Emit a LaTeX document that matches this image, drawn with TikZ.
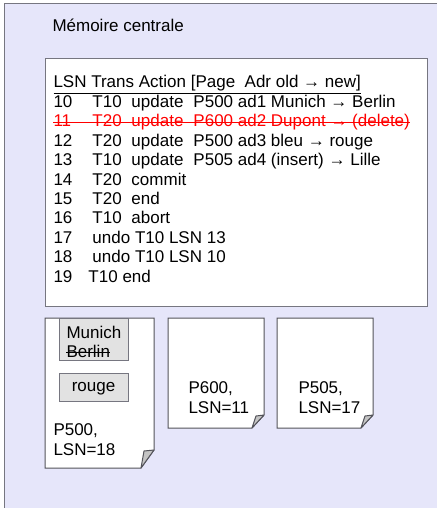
\documentclass[tikz,border=0pt]{standalone}
\usepackage{fontspec}
\setmainfont{Liberation Sans}
\usepackage{xcolor}
\usepackage{tikz}

\definecolor{memfill}{RGB}{230,230,250}
\definecolor{rim}{RGB}{118,118,128}
\definecolor{cellgray}{RGB}{226,226,226}
\definecolor{foldgray}{RGB}{196,196,196}

% columns of the log lines
\newcommand{\colA}[1]{\makebox[39pt][l]{#1}}
\newcommand{\colB}[1]{\makebox[39pt][l]{#1}}
\newcommand{\colC}[1]{\makebox[62pt][l]{#1}}

\begin{document}
\begin{tikzpicture} [x=1pt, y=-1pt, line width=1pt,
                    txt/.style = {inner sep=0pt,
                                  anchor=base west,
                                  font=\fontsize{17}{20}\selectfont},
                    cell/.style = {draw=rim,
                                   fill=cellgray,
                                   minimum width=69pt,
                                   inner sep=0pt,
                                   font=\fontsize{17}{20}\selectfont},
                    sheet/.style = {draw=rim!70!black, fill=white},
                    fold/.style = {draw=rim!70!black, fill=foldgray, line join=round}]

    \useasboundingbox (0,0) rectangle (437,508);
    \fill[white] (0,0) rectangle (437,508);

    % main memory
    \fill[memfill] (4,4) rectangle (437,508);
    \draw[rim] (437,4) -- (4,4) -- (4,508);
    \node (title) [txt] at (52,31.5) {Mémoire centrale};

    % log buffer
    \draw[rim, fill=white] (45,59) rectangle (427,306);
    \node (head) [txt] at (53,88) {\underline{LSN Trans Action [Page\ \ Adr old → new]}};
    \node (l10) [txt] at (53,107.4) {\colA{10}\colB{T10}\colC{update}P500 ad1 Munich → Berlin};
    \node (l11) [txt, red] at (53,126.8) {\colA{11}\colB{T20}\colC{update}P600 ad2 Dupont → (delete)};
    \draw[red] ([yshift=4.5pt]l11.base west) -- ([yshift=4.5pt]l11.base east);
    \node (l12) [txt] at (53,146.2) {\colA{12}\colB{T20}\colC{update}P500 ad3 bleu → rouge};
    \node (l13) [txt] at (53,165.6) {\colA{13}\colB{T10}\colC{update}P505 ad4 (insert) → Lille};
    \node (l14) [txt] at (53,185) {\colA{14}\colB{T20}commit};
    \node (l15) [txt] at (53,204.4) {\colA{15}\colB{T20}end};
    \node (l16) [txt] at (53,223.8) {\colA{16}\colB{T10}abort};
    \node (l17) [txt] at (53,243.2) {\colA{17}undo T10 LSN 13};
    \node (l18) [txt] at (53,262.6) {\colA{18}undo T10 LSN 10};
    \node (l19) [txt] at (53,282) {\makebox[35pt][l]{19}T10 end};

    % pages in the buffer
    \draw[sheet] (45,318) -- (154,318) -- (154,450) -- (141,468) -- (45,468) -- cycle;
    \draw[fold] (154,450) -- (144,451) -- (141,468) -- cycle;
    \draw[sheet] (168,318) -- (264,318) -- (264,415) -- (252,428) -- (168,428) -- cycle;
    \draw[fold] (264,415) -- (256,416) -- (252,428) -- cycle;
    \draw[sheet] (277,318) -- (373,318) -- (373,415) -- (361,428) -- (277,428) -- cycle;
    \draw[fold] (373,415) -- (365,416) -- (361,428) -- cycle;

    % records of P500
    \node (ad1) [cell, minimum height=42pt] at (93.5,339) {};
    \node (munich) [txt] at (66,338) {Munich};
    \node (berlin) [txt] at (66,357) {Berlin};
    \draw ([yshift=4.5pt]berlin.base west) -- ([yshift=4.5pt]berlin.base east);
    \node (ad3) [cell, minimum height=28pt, text height=12.2pt, text depth=3.6pt] at (93.5,387) {rouge};

    \node (p500) [txt, anchor=north west, align=left] at (53,422.8) {P500,\\LSN=18};
    \node (p600) [txt, anchor=north west, align=left] at (188,380.8) {P600,\\LSN=11};
    \node (p505) [txt, anchor=north west, align=left] at (298,380.8) {P505,\\LSN=17};
\end{tikzpicture}
\end{document}
